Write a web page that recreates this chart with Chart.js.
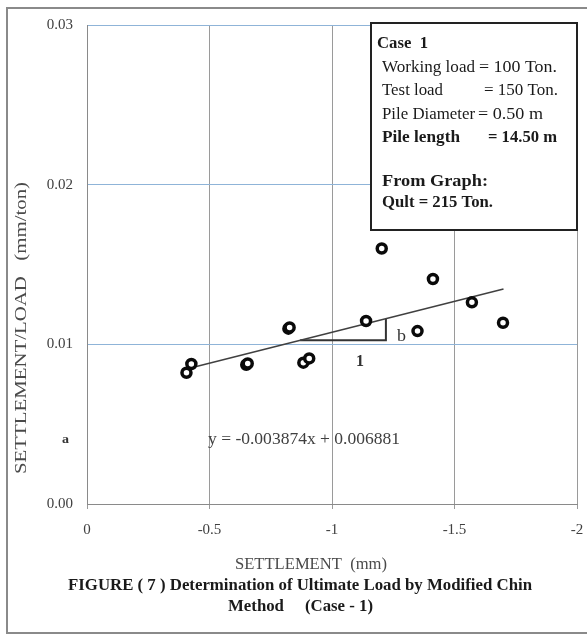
<!DOCTYPE html>
<html>
<head>
<meta charset="utf-8">
<script src="https://cdn.jsdelivr.net/npm/chart.js@4/dist/chart.umd.min.js"></script>
<style>
  html, body { margin: 0; padding: 0; background: #ffffff; }
  #wrap { position: relative; width: 587px; height: 635px; }
</style>
</head>
<body>
<div id="wrap"><canvas id="c"></canvas></div>
<script>
// ---- data ----
const settlement = [-0.406, -0.426, -0.650, -0.656, -0.822, -0.827, -0.883, -0.907, -1.139, -1.203, -1.349, -1.412, -1.571, -1.698];
const settlementPerLoad = [0.00822, 0.00877, 0.00872, 0.00880, 0.01098, 0.01106, 0.00885, 0.00912, 0.01146, 0.01600, 0.01083, 0.01409, 0.01263, 0.01135];
const trendX = [-0.41, -1.70];
const trendY = [0.00847, 0.01347];
const slopeTriX = [-0.87, -1.22, -1.22];
const slopeTriY = [0.01025, 0.01025, 0.01161];
const xTickValues = [0, -0.5, -1, -1.5, -2];
const xTickLabels = ['0', '-0.5', '-1', '-1.5', '-2'];
const yTickValues = [0, 0.01, 0.02, 0.03];
const yTickLabels = ['0.00', '0.01', '0.02', '0.03'];
const xTitle = 'SETTLEMENT  (mm)';
const yTitle = 'SETTLEMENT/LOAD   (mm/ton)';
const equationText = 'y = -0.003874x + 0.006881';
const captionLines = ['FIGURE ( 7 ) Determination of Ultimate Load by Modified Chin', 'Method     (Case - 1)'];
const infoHeader = 'Case  1';
const infoLabels = ['Working load', 'Test load', 'Pile Diameter', 'Pile length'];
const infoValues = ['= 100 Ton.', '= 150 Ton.', '= 0.50 m', '= 14.50 m'];
const infoResult = ['From Graph:', 'Qult = 215 Ton.'];

const pts = settlement.map((x, i) => ({ x: x, y: settlementPerLoad[i] }));
const trend = trendX.map((x, i) => ({ x: x, y: trendY[i] }));
const tri = slopeTriX.map((x, i) => ({ x: x, y: slopeTriY[i] }));

const SERIF = '"Liberation Serif", "DejaVu Serif", serif';

function fitText(ctx, text, left, y, width, font, color) {
  ctx.save();
  ctx.font = font;
  ctx.fillStyle = color;
  ctx.textAlign = 'left';
  ctx.textBaseline = 'middle';
  const m = ctx.measureText(text).width;
  const sx = width / m;
  ctx.translate(left, y);
  ctx.scale(sx, 1);
  ctx.fillText(text, 0, 0);
  ctx.restore();
}

const decor = {
  id: 'decor',
  beforeDraw(chart) {
    const ctx = chart.ctx;
    ctx.save();
    ctx.fillStyle = '#ffffff';
    ctx.fillRect(0, 0, chart.width, chart.height);
    ctx.restore();
  },
  afterDraw(chart) {
    const ctx = chart.ctx;
    // outer frame
    ctx.save();
    ctx.strokeStyle = '#8a8a8a';
    ctx.lineWidth = 2;
    ctx.strokeRect(7, 8, 590, 625);
    ctx.restore();

    // y title
    ctx.save();
    ctx.translate(22, 328);
    ctx.rotate(-Math.PI / 2);
    fitText(ctx, yTitle, -146, 0, 292, '16px ' + SERIF, '#4a4a4a');
    ctx.restore();

    // x title and caption
    fitText(ctx, xTitle, 235, 565, 152, '16px ' + SERIF, '#4a4a4a');
    fitText(ctx, captionLines[0], 68, 586, 464, 'bold 16px ' + SERIF, '#1a1a1a');
    fitText(ctx, captionLines[1], 228, 607, 145, 'bold 16px ' + SERIF, '#1a1a1a');

    // annotations
    fitText(ctx, 'a', 62, 440, 7, 'bold 13px ' + SERIF, '#333333');
    fitText(ctx, 'b', 397, 337, 9, '16px ' + SERIF, '#333333');
    fitText(ctx, '1', 356, 362, 8, 'bold 16px ' + SERIF, '#333333');
    fitText(ctx, equationText, 208, 440, 192, '16px ' + SERIF, '#404040');

    // info box
    ctx.save();
    ctx.fillStyle = '#ffffff';
    ctx.fillRect(371, 23, 206, 207);
    ctx.strokeStyle = '#222222';
    ctx.lineWidth = 2;
    ctx.strokeRect(371, 23, 206, 207);
    ctx.restore();
    const f = '17px ' + SERIF, fb = 'bold 17px ' + SERIF, col = '#1a1a1a';
    fitText(ctx, infoHeader, 377, 44, 51, fb, col);
    const ys = [68, 91, 115, 138];
    const lw = [93, 61, 93, 78];
    const vx = [479, 484, 478, 488];
    const vw = [78, 74, 65, 69];
    for (let i = 0; i < 4; i++) {
      const font = i === 3 ? fb : f;
      fitText(ctx, infoLabels[i], 382, ys[i], lw[i], font, col);
      fitText(ctx, infoValues[i], vx[i], ys[i], vw[i], font, col);
    }
    fitText(ctx, infoResult[0], 382, 182, 106, fb, col);
    fitText(ctx, infoResult[1], 382, 203, 111, fb, col);
  }
};

new Chart(document.getElementById('c'), {
  type: 'scatter',
  data: {
    datasets: [
      {
        data: pts,
        order: 0,
        pointRadius: 4.5,
        pointBorderWidth: 3.5,
        pointBorderColor: '#0a0a0a',
        pointBackgroundColor: '#ffffff',
        showLine: false
      },
      {
        data: trend,
        order: 1,
        showLine: true,
        borderColor: '#404040',
        borderWidth: 1.5,
        pointRadius: 0,
        fill: false
      },
      {
        data: tri,
        order: 2,
        showLine: true,
        borderColor: '#333333',
        borderWidth: 2,
        pointRadius: 0,
        fill: false
      }
    ]
  },
  options: {
    responsive: true,
    maintainAspectRatio: false,
    animation: false,
    layout: { padding: { left: 0, right: 10, top: 25, bottom: 0 } },
    plugins: { legend: { display: false }, tooltip: { enabled: false } },
    scales: {
      x: {
        type: 'linear',
        min: -2,
        max: 0,
        reverse: true,
        afterFit(s) { s.height = 131; },
        afterBuildTicks(s) { s.ticks = xTickValues.slice().reverse().map(v => ({ value: v })); },
        ticks: {
          padding: 12,
          color: '#404040',
          font: { family: SERIF, size: 15 },
          callback(v) { const i = xTickValues.indexOf(v); return i >= 0 ? xTickLabels[i] : ''; }
        },
        grid: { color: '#9a9a9a', lineWidth: 1, tickLength: 5, drawTicks: true },
        border: { color: '#8a8a8a', width: 1 }
      },
      y: {
        type: 'linear',
        min: 0,
        max: 0.03,
        afterFit(s) { s.width = 87; },
        afterBuildTicks(s) { s.ticks = yTickValues.map(v => ({ value: v })); },
        ticks: {
          padding: 14,
          color: '#404040',
          font: { family: SERIF, size: 15 },
          callback(v) { const i = yTickValues.findIndex(t => Math.abs(t - v) < 1e-9); return i >= 0 ? yTickLabels[i] : ''; }
        },
        grid: {
          drawTicks: false,
          lineWidth: 1,
          color(c) { return c.tick && c.tick.value === 0 ? '#8a8a8a' : '#8fb4d8'; }
        },
        border: { color: '#8a8a8a', width: 1 }
      }
    }
  },
  plugins: [decor]
});
</script>
</body>
</html>
